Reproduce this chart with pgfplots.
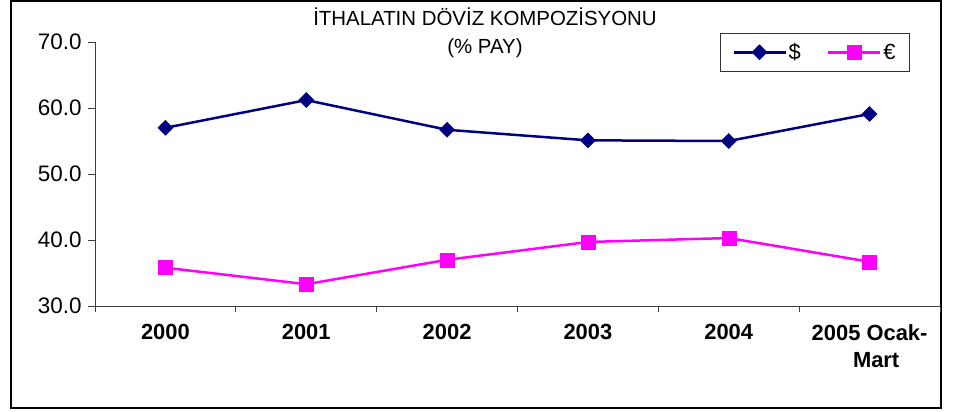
\documentclass[border=0pt]{standalone}
\usepackage{fontspec}
\setmainfont{Liberation Sans}
\usepackage{pgfplots}
\pgfplotsset{compat=1.18}
\definecolor{navyc}{RGB}{0,0,128}
\definecolor{magc}{RGB}{255,0,255}
\begin{document}
\begin{tikzpicture}
\path[use as bounding box] (0,0) rectangle (954bp,412bp);
\draw[line width=1.2bp] (11bp,4bp) rectangle (941bp,411bp);
\node[anchor=base, font=\fontsize{20.5}{24}\selectfont] at (485bp,386bp) {İTHALATIN DÖVİZ KOMPOZİSYONU};
\node[anchor=base, font=\fontsize{20.5}{24}\selectfont] at (485bp,358bp) {(\% PAY)};
\begin{axis}[
  at={(95bp,106bp)}, anchor=south west,
  scale only axis, width=845bp, height=264bp,
  xmin=-0.5, xmax=5.5, ymin=30, ymax=70,
  axis x line=bottom, axis y line=left,
  axis line style={-, line width=0.8bp, black!75},
  tick align=outside,
  xtick={0,...,5},
  xticklabels={2000,2001,2002,2003,2004,{2005 Ocak-\\\hspace*{0.6em}Mart}},
  major x tick style={draw=none},
  minor xtick={-0.5,0.5,...,5.5},
  minor x tick style={line width=0.8bp, black!75},
  minor tick length=6bp,
  major tick length=7bp,
  ytick={30,40,...,70},
  y tick style={line width=0.8bp, black!75},
  yticklabel style={/pgf/number format/.cd, fixed, fixed zerofill, precision=1, /tikz/.cd, font=\fontsize{22.5}{26}\selectfont, xshift=-3bp},
  /pgf/number format/assume math mode=true,
  xticklabel style={font=\fontsize{22}{27}\selectfont\bfseries, align=center, yshift=-8bp},
  legend columns=2,
  legend style={at={(0.9645,1.034)}, anchor=north east, draw=black!80, line width=0.8bp,
    font=\fontsize{22}{26}\selectfont, inner xsep=12bp, inner ysep=8bp,
    /tikz/every even column/.append style={column sep=24bp}},
  legend image code/.code={\draw[mark repeat=2,mark phase=2] plot coordinates {(0bp,0bp) (26bp,0bp) (52bp,0bp)};},
  clip=false,
]
\addplot[navyc, line width=2.5bp, mark=square*, mark size=5.3bp, mark options={rotate=45, solid, fill=navyc, draw=navyc, line width=0.5bp}]
  coordinates {(0,57.0) (1,61.2) (2,56.7) (3,55.1) (4,55.0) (5,59.1)};
\addlegendentry{\$}
\addplot[magc, line width=2.5bp, mark=square*, mark size=7bp, mark options={solid, fill=magc, draw=magc, line width=0.5bp}]
  coordinates {(0,35.8) (1,33.3) (2,37.0) (3,39.7) (4,40.3) (5,36.7)};
\addlegendentry{€}
\end{axis}
\end{tikzpicture}
\end{document}
